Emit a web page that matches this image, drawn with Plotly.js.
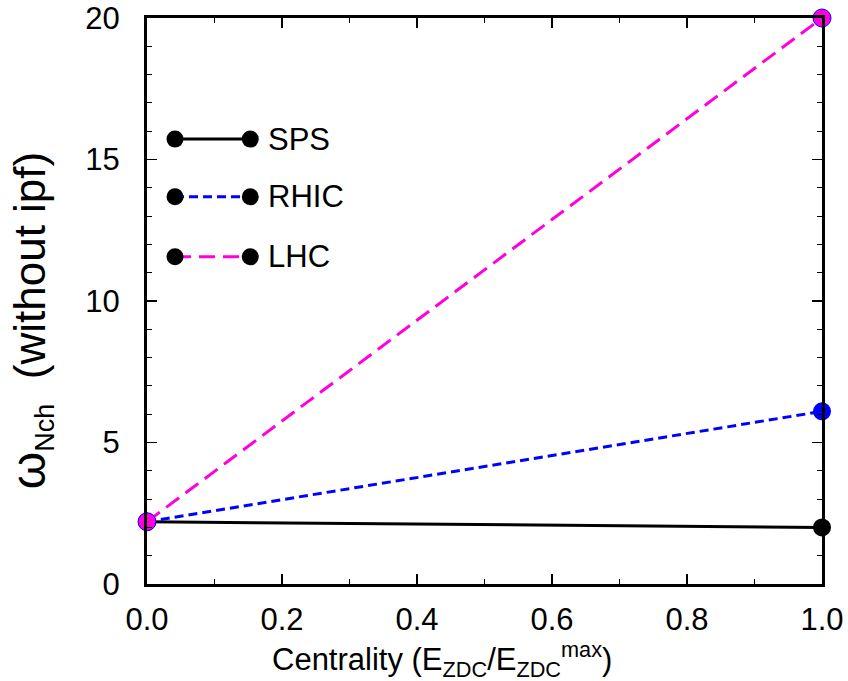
<!DOCTYPE html>
<html>
<head>
<meta charset="utf-8">
<script src="https://cdn.plot.ly/plotly-3.0.1.min.js"></script>
<style>html,body{margin:0;padding:0;background:#fff;}#chart{width:848px;height:681px;}</style>
</head>
<body>
<div id="chart"></div>
<script>
const centrality = [0.0, 1.0];
const spsValues = [2.2, 2.0];
const rhicValues = [2.2, 6.1];
const lhcValues = [2.2, 20.0];
const seriesNames = ["SPS", "RHIC", "LHC"];
const seriesColors = ["#000000", "#0000ff", "#ff00dd"];
const seriesDashPx = ["solid", "9px,5px", "16px,8px"];
const xTickVals = [0, 0.2, 0.4, 0.6, 0.8, 1.0];
const yTickVals = [0, 5, 10, 15, 20];
const xTitle = "Centrality (E<sub>ZDC</sub>/E<sub>ZDC</sub><sup>max</sup>)";
const yTitle = "<span style=\"font-size:48px\">ω</span><sub><span style=\"font-size:27px\">Nch</span></sub>  (without ipf)";

const FONT = "Liberation Sans, Arial, Helvetica, sans-serif";
const allValues = [spsValues, rhicValues, lhcValues];
const traces = allValues.map((vals, i) => ({
  x: centrality,
  y: vals,
  type: "scatter",
  mode: "lines+markers",
  name: seriesNames[i],
  showlegend: false,
  cliponaxis: false,
  line: {color: seriesColors[i], width: 3, dash: seriesDashPx[i]},
  marker: {size: 18, color: seriesColors[i], line: {width: i === 2 ? 1 : 0, color: "#0000ff"}}
}));

// manual legend (paper coordinates)
const legY = [0.786, 0.684, 0.578];
const legX0 = 0.0415, legX1 = 0.153, legText = 0.176;
const shapes = [];
const annotations = [];
seriesNames.forEach((nm, i) => {
  shapes.push({type: "line", xref: "paper", yref: "paper", x0: legX0, x1: legX1, y0: legY[i], y1: legY[i],
    line: {color: seriesColors[i], width: 3, dash: seriesDashPx[i]}});
  [legX0, legX1].forEach(cx => {
    shapes.push({type: "circle", xref: "paper", yref: "paper", xsizemode: "pixel", ysizemode: "pixel",
      xanchor: cx, yanchor: legY[i], x0: -8.5, x1: 8.5, y0: -8.5, y1: 8.5,
      fillcolor: "#000", line: {width: 0}});
  });
  annotations.push({xref: "paper", yref: "paper", x: legText, y: legY[i], xanchor: "left", yanchor: "middle",
    text: nm, showarrow: false, font: {size: 31, color: "#000", family: FONT}});
});

// axis titles as annotations (offset like the reference)
annotations.push({xref: "paper", yref: "paper", x: 0.437, y: -0.134, xanchor: "center", yanchor: "middle",
  text: xTitle, showarrow: false, font: {size: 31, color: "#000", family: FONT}});
annotations.push({xref: "paper", yref: "paper", x: -0.172, y: 0.466, xanchor: "center", yanchor: "middle",
  textangle: -90, text: yTitle, showarrow: false, font: {size: 44, color: "#000", family: FONT}});

const layout = {
  width: 848, height: 681,
  margin: {l: 147, r: 26, t: 18, b: 97},
  paper_bgcolor: "#fff", plot_bgcolor: "#fff",
  font: {family: FONT, color: "#000", size: 31},
  showlegend: false,
  xaxis: {
    range: [0, 1], tickvals: xTickVals, tickformat: ".1f",
    ticks: "inside", ticklen: 10, tickwidth: 1.5, tickcolor: "#000",
    minor: {dtick: 0.1, ticks: "inside", ticklen: 5, tickwidth: 1, tickcolor: "#000"},
    showline: true, linewidth: 3, linecolor: "#000", mirror: "allticks",
    showgrid: false, zeroline: false, automargin: false,
    ticklabelstandoff: 6,
    tickfont: {size: 31}
  },
  yaxis: {
    range: [0, 20], tickvals: yTickVals,
    ticks: "inside", ticklen: 10, tickwidth: 1.5, tickcolor: "#000",
    minor: {dtick: 1, ticks: "inside", ticklen: 5, tickwidth: 1, tickcolor: "#000"},
    showline: true, linewidth: 3, linecolor: "#000", mirror: "allticks",
    showgrid: false, zeroline: false, automargin: false,
    ticklabelstandoff: 18,
    tickfont: {size: 31}
  },
  shapes: shapes,
  annotations: annotations
};

Plotly.newPlot("chart", traces, layout, {displayModeBar: false, staticPlot: true});
</script>
</body>
</html>
